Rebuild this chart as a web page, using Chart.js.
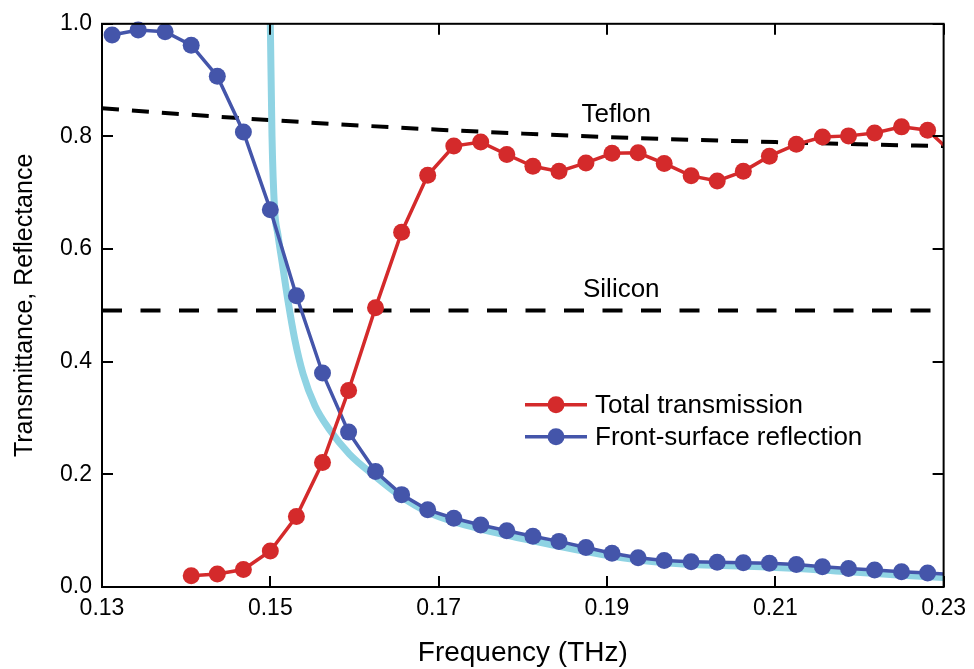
<!DOCTYPE html>
<html>
<head>
<meta charset="utf-8">
<script src="https://cdn.jsdelivr.net/npm/chart.js@4/dist/chart.umd.min.js"></script>
<style>
  html, body { margin: 0; padding: 0; background: #fff; }
</style>
</head>
<body>
<canvas id="grafica" width="974" height="669"></canvas>
<script>
// Frecuencias medidas (THz)
const frecuencias = [0.1312, 0.1343, 0.1375, 0.1406, 0.1437, 0.1468, 0.1500, 0.1531, 0.1562, 0.1593,
    0.1625, 0.1656, 0.1687, 0.1718, 0.1750, 0.1781, 0.1812, 0.1843, 0.1875, 0.1906,
    0.1937, 0.1968, 0.2000, 0.2031, 0.2062, 0.2093, 0.2125, 0.2156, 0.2187, 0.2218,
    0.2250, 0.2281, 0.2312]

const transmision = [null, null, null, 0.020, 0.023, 0.031, 0.064, 0.125, 0.221, 0.349,
    0.496, 0.630, 0.731, 0.783, 0.790, 0.768, 0.747, 0.738, 0.753, 0.770,
    0.771, 0.752, 0.730, 0.721, 0.738, 0.765, 0.786, 0.799, 0.801, 0.806,
    0.817, 0.811, 0.768]

const reflexion = [0.980, 0.989, 0.986, 0.962, 0.907, 0.808, 0.670, 0.517, 0.380, 0.275,
    0.205, 0.164, 0.137, 0.122, 0.110, 0.100, 0.090, 0.081, 0.070, 0.060,
    0.052, 0.047, 0.045, 0.044, 0.043, 0.042, 0.040, 0.036, 0.033, 0.030,
    0.027, 0.025, 0.022]

// Curva teórica (azul claro)
const frecModelo = [0.1499, 0.1500, 0.1502, 0.1505, 0.1509, 0.1515, 0.1521, 0.1529, 0.1539, 0.1553,
    0.1570, 0.1594, 0.1625, 0.1656, 0.1687, 0.1718, 0.1750, 0.1812, 0.1875, 0.1937,
    0.2000, 0.2062, 0.2125, 0.2187, 0.2250, 0.2300]
const modelo = [1.10, 1.00, 0.80, 0.672, 0.626, 0.567, 0.508, 0.440, 0.378, 0.322,
    0.280, 0.236, 0.196, 0.160, 0.133, 0.116, 0.103, 0.082, 0.063, 0.048,
    0.040, 0.037, 0.033, 0.027, 0.021, 0.017]

// Referencias
const frecTeflon = [0.13, 0.14, 0.15, 0.16, 0.17, 0.18, 0.19, 0.20, 0.21, 0.22, 0.23]
const teflon = [0.850, 0.839, 0.829, 0.820, 0.812, 0.805, 0.799, 0.794, 0.790, 0.786, 0.783]
const frecSilicio = [0.13, 0.23]
const silicio = [0.491, 0.491]

const rojo = '#d42a2b'
const azul = '#4455aa'
const celeste = '#8fd3e3'
const fuente = "'Liberation Sans', Arial, Helvetica, sans-serif"

const puntos = (xs, ys) => xs.map((x, i) => ({ x: x, y: ys[i] }))

const marco = {
    id: 'marco',
    afterDraw(chart) {
        const ctx = chart.ctx
        const area = chart.chartArea
        const ex = chart.scales.x
        const ey = chart.scales.y
        ctx.save()

        // Marco y marcas hacia dentro
        ctx.strokeStyle = '#000'
        ctx.lineWidth = 2
        ctx.strokeRect(area.left, area.top, area.right - area.left, area.bottom - area.top)
        ctx.beginPath()
        ex.ticks.forEach(t => {
            const px = Math.round(ex.getPixelForValue(t.value))
            ctx.moveTo(px, area.bottom); ctx.lineTo(px, area.bottom - 11)
            ctx.moveTo(px, area.top); ctx.lineTo(px, area.top + 11)
        })
        ey.ticks.forEach(t => {
            const py = Math.round(ey.getPixelForValue(t.value))
            ctx.moveTo(area.left, py); ctx.lineTo(area.left + 11, py)
            ctx.moveTo(area.right, py); ctx.lineTo(area.right - 11, py)
        })
        ctx.stroke()

        // Etiquetas
        ctx.fillStyle = '#000'
        ctx.textAlign = 'center'
        ctx.textBaseline = 'middle'
        ctx.font = '26px ' + fuente
        ctx.fillText('Teflon', ex.getPixelForValue(0.1911), ey.getPixelForValue(0.839))
        ctx.fillText('Silicon', ex.getPixelForValue(0.1917), ey.getPixelForValue(0.528))

        // Títulos de ejes
        ctx.font = '28px ' + fuente
        ctx.textBaseline = 'alphabetic'
        ctx.fillText('Frequency (THz)', (area.left + area.right) / 2, 661)
        ctx.save()
        ctx.translate(32, (area.top + area.bottom) / 2)
        ctx.rotate(-Math.PI / 2)
        ctx.font = '25px ' + fuente
        ctx.fillText('Transmittance, Reflectance', 0, 0)
        ctx.restore()

        // Leyenda
        const filas = [['Total transmission', rojo], ['Front-surface reflection', azul]]
        ctx.textAlign = 'left'
        ctx.textBaseline = 'middle'
        ctx.font = '26px ' + fuente
        filas.forEach((fila, i) => {
            const y = area.top + 381 + i * 32
            const x = area.left + 423
            ctx.strokeStyle = fila[1]
            ctx.lineWidth = 3.5
            ctx.beginPath()
            ctx.moveTo(x, y); ctx.lineTo(x + 62, y)
            ctx.stroke()
            ctx.fillStyle = fila[1]
            ctx.beginPath()
            ctx.arc(x + 31, y, 8.5, 0, Math.PI * 2)
            ctx.fill()
            ctx.fillStyle = '#000'
            ctx.fillText(fila[0], x + 70, y + 1)
        })

        ctx.restore()
    }
}

new Chart(document.getElementById('grafica'), {
    type: 'line',
    data: {
        datasets: [{
            label: 'Total transmission',
            data: puntos(frecuencias, transmision),
            borderColor: rojo,
            backgroundColor: rojo,
            borderWidth: 3.5,
            pointRadius: 8.5,
            pointBorderWidth: 0,
            clip: { left: 10, top: 10, right: 0, bottom: 10 },
            order: 0
        },
        {
            label: 'Front-surface reflection',
            data: puntos(frecuencias, reflexion),
            borderColor: azul,
            backgroundColor: azul,
            borderWidth: 3.5,
            pointRadius: 8.5,
            pointBorderWidth: 0,
            clip: { left: 10, top: 10, right: 0, bottom: 10 },
            order: 1
        },
        {
            label: 'Modelo',
            data: puntos(frecModelo, modelo),
            borderColor: celeste,
            borderWidth: 7,
            pointRadius: 0,
            cubicInterpolationMode: 'monotone',
            clip: 0,
            order: 2
        },
        {
            label: 'Teflon',
            data: puntos(frecTeflon, teflon),
            borderColor: '#000',
            borderWidth: 4,
            borderDash: [17, 13],
            pointRadius: 0,
            cubicInterpolationMode: 'monotone',
            clip: 0,
            order: 3
        },
        {
            label: 'Silicon',
            data: puntos(frecSilicio, silicio),
            borderColor: '#000',
            borderWidth: 4,
            borderDash: [20, 18.5],
            pointRadius: 0,
            clip: 0,
            order: 3
        }]
    },
    plugins: [marco],
    options: {
        responsive: false,
        animation: false,
        layout: { padding: { top: 21, right: 29, left: 0, bottom: 0 } },
        plugins: {
            legend: { display: false },
            tooltip: { enabled: false }
        },
        scales: {
            x: {
                type: 'linear',
                min: 0.13,
                max: 0.23,
                grid: { display: false, drawTicks: false },
                border: { display: false },
                ticks: {
                    stepSize: 0.02,
                    padding: 8,
                    color: '#000',
                    font: { family: fuente, size: 23 },
                    callback: v => v.toFixed(2)
                },
                afterFit: escala => { escala.height = 82 }
            },
            y: {
                min: 0,
                max: 1,
                grid: { display: false, drawTicks: false },
                border: { display: false },
                ticks: {
                    stepSize: 0.2,
                    padding: 10,
                    color: '#000',
                    font: { family: fuente, size: 23 },
                    callback: v => v.toFixed(1)
                },
                afterFit: escala => { escala.width = 102 }
            }
        }
    }
})
</script>
</body>
</html>
